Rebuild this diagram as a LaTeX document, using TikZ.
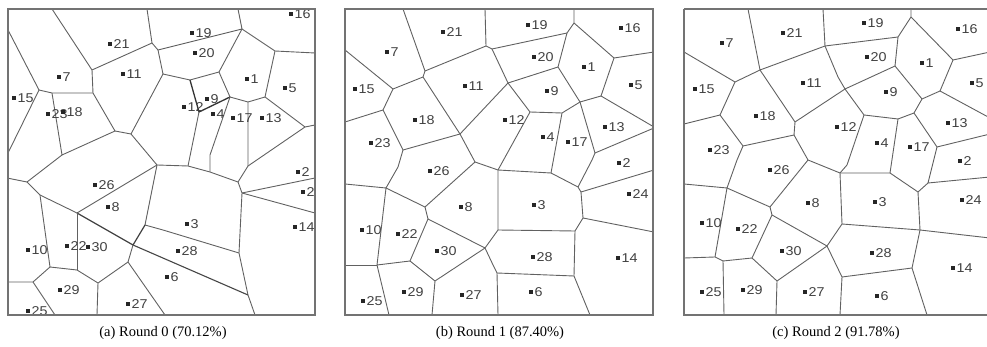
\documentclass[tikz,border=0pt]{standalone}
\usepackage{fontspec}
\setmainfont{Liberation Serif}
\newfontfamily\lblfont[FakeStretch=1.12]{Liberation Sans}
\tikzset{
 ed/.style={draw=black!62, line width=0.9pt, line join=round},
 frm/.style={draw=black!55, line width=1.4pt},
 mk/.style={rectangle, fill=black!85, minimum width=4.5pt, minimum height=4pt, inner sep=0pt},
 lbl/.style={font=\lblfont\fontsize{12.8}{14}\selectfont, text=black!75, inner sep=0pt, anchor=west},
 captxt/.style={font=\fontsize{14.5}{17}\selectfont, inner sep=0pt}
}
\newcommand{\sensorpt}[4]{\node[mk] (#1) at (#2,#3) {}; \node[lbl] (#1l) at ([xshift=1pt]#1.east) {#4};}
\begin{document}
\begin{tikzpicture}[x=1pt,y=-1pt]
\useasboundingbox (0,0) rectangle (987,347);
% ---------------- panel (a)
\begin{scope}
\clip (8,9) rectangle (315,315);
\draw[ed] (52,9) -- (92,70) -- (152,43) -- (147,9);
\draw[ed] (152,43) -- (158,50) -- (242,29) -- (238,9);
\draw[ed] (158,50) -- (163,74) -- (190,80) -- (219,72) -- (242,29);
\draw[ed] (242,29) -- (275,51) -- (315,53);
\draw[ed] (275,51) -- (265,97) -- (305,127) -- (315,125);
\draw[ed] (219,72) -- (230,97) -- (248,102) -- (265,97);
\draw[ed, line width=1.3pt, draw=black!80] (190,80) -- (199,112) -- (230,97);
\draw[ed] (230,97) -- (210,155) -- (210,172);
\draw[ed] (199,112) -- (188,166);
\draw[ed] (248,102) -- (248,166) -- (238,182);
\draw[ed] (305,127) -- (248,166);
\draw[ed] (157,165) -- (188,166) -- (210,172) -- (238,182) -- (242,193) -- (239,253) -- (248,295) -- (255,315);
\draw[ed] (242,193) -- (315,178);
\draw[ed] (242,193) -- (315,213);
\draw[ed] (7,28) -- (39,90) -- (52,93) -- (93,93) -- (92,70);
\draw[ed] (39,90) -- (7,155);
\draw[ed] (52,93) -- (62,155) -- (115,131) -- (93,93);
\draw[ed] (115,131) -- (131,134) -- (163,74);
\draw[ed] (131,134) -- (157,165) -- (145,225) -- (163,230) -- (239,253);
\draw[ed] (62,155) -- (27,182) -- (7,178);
\draw[ed] (27,182) -- (40,195) -- (77,213) -- (157,165);
\draw[ed, line width=1.2pt, draw=black!75] (77,213) -- (133,245) -- (145,225);
\draw[ed, line width=1.1pt, draw=black!72] (133,245) -- (248,295);
\draw[ed] (133,245) -- (128,262) -- (98,283) -- (97,315);
\draw[ed] (128,262) -- (165,315);
\draw[ed] (40,195) -- (50,267) -- (77,270) -- (98,283);
\draw[ed] (77,213) -- (77,270);
\draw[ed] (50,267) -- (33,282) -- (7,282);
\draw[ed] (33,282) -- (55,315);
\foreach \n/\x/\y in {21/110/44, 7/59/77, 11/123/74, 15/14/98, 23/48/114, 18/63/112, 19/192/33, 20/195/53, 1/247/79, 5/285/88, 13/262/118, 17/233/118, 4/213/114, 9/207/99, 12/184/107, 16/291/14, 26/95/185, 8/108/207, 10/28/250, 22/67/246, 30/88/247, 29/60/290, 25/28/311, 27/128/304, 3/187/224, 28/178/251, 6/167/277, 2/298/172, 24/303/192, 14/295/227}
  {\sensorpt{a\n}{\x}{\y}{\n}}
\end{scope}
\draw[frm] (8,9) rectangle (315,315);
% ---------------- panel (b)
\begin{scope}
\clip (345,9) rectangle (653,315);
\draw[ed] (403,9) -- (425,71) -- (486,46) -- (485,9);
\draw[ed] (486,46) -- (492,49) -- (567,33) -- (574,23) -- (574,9);
\draw[ed] (574,23) -- (614,58) -- (654,52);
\draw[ed] (614,58) -- (601,96) -- (654,127);
\draw[ed] (567,33) -- (558,67) -- (508,83) -- (492,49);
\draw[ed] (558,67) -- (580,102) -- (601,96);
\draw[ed] (508,83) -- (530,112) -- (562,113) -- (580,102);
\draw[ed] (580,102) -- (595,153) -- (592,160) -- (578,187);
\draw[ed] (595,153) -- (654,128);
\draw[ed] (562,113) -- (551,173);
\draw[ed] (530,112) -- (498,170);
\draw[ed] (345,50) -- (393,89) -- (423,77) -- (425,71);
\draw[ed] (423,77) -- (460,134) -- (508,83);
\draw[ed] (393,89) -- (383,110) -- (345,122);
\draw[ed] (383,110) -- (403,150) -- (460,134);
\draw[ed] (460,134) -- (475,162) -- (498,170) -- (551,173) -- (578,187) -- (581,192) -- (654,170);
\draw[ed] (581,192) -- (583,218) -- (654,232);
\draw[ed] (583,218) -- (575,231) -- (498,230) -- (498,170);
\draw[ed] (575,231) -- (574,276) -- (590,315);
\draw[ed] (574,276) -- (497,273) -- (498,315);
\draw[ed] (403,150) -- (398,167) -- (386,188) -- (345,184);
\draw[ed] (386,188) -- (425,207) -- (475,162);
\draw[ed] (425,207) -- (428,219) -- (485,248) -- (498,230);
\draw[ed] (485,248) -- (494,267) -- (497,273);
\draw[ed] (485,248) -- (435,281) -- (432,315);
\draw[ed] (428,219) -- (410,261) -- (435,281);
\draw[ed] (386,188) -- (377,265) -- (410,261);
\draw[ed] (377,265) -- (345,265);
\draw[ed] (377,265) -- (389,315);
\foreach \n/\x/\y in {21/443/32, 7/387/52, 15/355/89, 11/465/86, 18/415/120, 23/371/143, 19/528/25, 16/621/28, 20/534/57, 1/584/67, 9/547/91, 5/631/85, 12/505/120, 4/543/137, 17/568/142, 13/605/127, 2/619/163, 24/629/194, 3/534/205, 28/533/257, 14/618/258, 6/531/292, 26/430/171, 8/461/207, 10/362/230, 22/398/234, 30/437/251, 25/363/301, 29/404/292, 27/462/295}
  {\sensorpt{b\n}{\x}{\y}{\n}}
\end{scope}
\draw[frm] (345,9) rectangle (653,315);
% ---------------- panel (c)
\begin{scope}
\clip (684,9) rectangle (987,315);
\draw[ed] (748,9) -- (760,70) -- (825,46) -- (823,9);
\draw[ed] (825,46) -- (898,37) -- (911,17) -- (911,9);
\draw[ed] (911,17) -- (953,60) -- (990,52);
\draw[ed] (953,60) -- (940,91) -- (990,118);
\draw[ed] (940,91) -- (922,99) -- (914,113) -- (937,147) -- (990,134);
\draw[ed] (898,37) -- (895,66) -- (922,99);
\draw[ed] (895,66) -- (845,89) -- (838,77) -- (825,46);
\draw[ed] (845,89) -- (864,115) -- (898,119) -- (914,113);
\draw[ed] (864,115) -- (847,165) -- (840,173);
\draw[ed] (898,119) -- (890,173);
\draw[ed] (937,147) -- (928,183) -- (990,177);
\draw[ed] (928,183) -- (918,192) -- (890,173) -- (840,173) -- (808,160) -- (794,135) -- (795,122) -- (760,70);
\draw[ed] (918,192) -- (920,230) -- (990,238);
\draw[ed] (920,230) -- (842,224) -- (840,173);
\draw[ed] (920,230) -- (912,268) -- (927,315);
\draw[ed] (912,268) -- (842,277) -- (840,315);
\draw[ed] (842,277) -- (827,246) -- (842,224);
\draw[ed] (684,52) -- (735,82) -- (760,70);
\draw[ed] (735,82) -- (720,115) -- (684,124);
\draw[ed] (720,115) -- (743,146) -- (794,135);
\draw[ed] (795,122) -- (845,89);
\draw[ed] (743,146) -- (737,160) -- (727,188) -- (684,184);
\draw[ed] (727,188) -- (770,207) -- (808,160);
\draw[ed] (770,207) -- (772,215) -- (827,246);
\draw[ed] (827,246) -- (777,281) -- (776,315);
\draw[ed] (772,215) -- (752,258) -- (777,281);
\draw[ed] (752,258) -- (723,261) -- (715,257) -- (684,258);
\draw[ed] (715,257) -- (727,188);
\draw[ed] (723,261) -- (724,315);
\foreach \n/\x/\y in {7/722/43, 21/783/33, 15/695/89, 11/803/83, 18/756/116, 23/710/150, 19/864/23, 16/958/29, 20/867/57, 1/922/63, 5/972/83, 9/886/92, 12/837/127, 13/948/123, 4/877/143, 17/910/147, 2/960/161, 3/875/202, 24/962/200, 28/872/253, 14/953/268, 6/877/296, 26/770/170, 8/808/203, 10/702/223, 22/738/229, 30/782/251, 25/702/292, 29/743/290, 27/805/292}
  {\sensorpt{c\n}{\x}{\y}{\n}}
\end{scope}
\draw[frm] (684,9) -- (990,9) (684,9) -- (684,315) -- (990,315);
% captions
\node[captxt] (capa) at (163,333) {(a) Round 0 (70.12\%)};
\node[captxt] (capb) at (500,333) {(b) Round 1 (87.40\%)};
\node[captxt] (capc) at (836,333) {(c) Round 2 (91.78\%)};
\end{tikzpicture}
\end{document}
